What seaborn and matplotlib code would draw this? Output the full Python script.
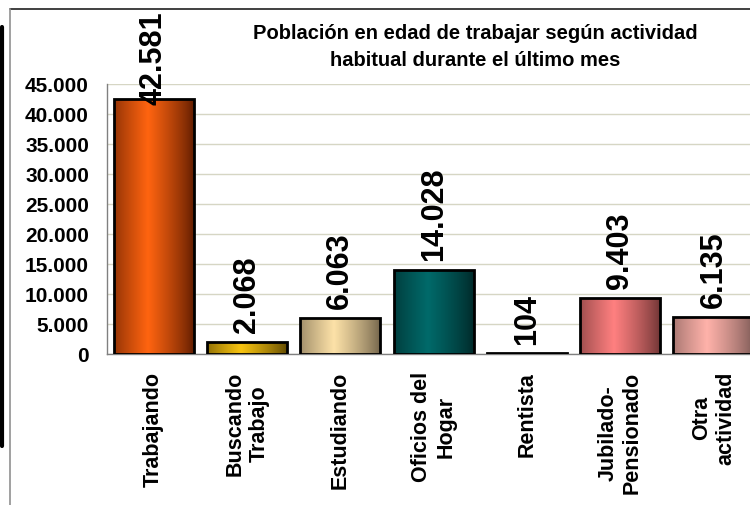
import numpy as np
import pandas as pd
import matplotlib
matplotlib.use("Agg")
import matplotlib.pyplot as plt
from matplotlib.colors import to_rgb
from matplotlib.lines import Line2D
import seaborn as sns

categorias = ["Trabajando", "Buscando\nTrabajo", "Estudiando", "Oficios del\nHogar",
              "Rentista", "Jubilado-\nPensionado", "Otra\nactividad"]
poblacion = [42581, 2068, 6063, 14028, 104, 9403, 6135]
etiquetas = ["42.581", "2.068", "6.063", "14.028", "104", "9.403", "6.135"]
ticks_y = [0, 5000, 10000, 15000, 20000, 25000, 30000, 35000, 40000, 45000]
ticks_y_txt = ["0", "5.000", "10.000", "15.000", "20.000", "25.000", "30.000",
               "35.000", "40.000", "45.000"]
titulo = "Población en edad de trabajar según actividad\nhabitual durante el último mes"

# colores (centro brillante, borde oscuro) para el degradado de cada barra
centro = ["#ff6410", "#f8c410", "#fde2a8", "#006a6a", "#202020", "#ff8080", "#ffb2aa"]
borde = ["#5a1a00", "#5a4400", "#6e6048", "#002626", "#000000", "#6a3232", "#7a5854"]

sns.set_style("white")
plt.rcParams["font.family"] = ["Liberation Sans", "DejaVu Sans"]
plt.rcParams["font.weight"] = "bold"
plt.rcParams["text.color"] = "black"
plt.rcParams["xtick.labelcolor"] = "black"
plt.rcParams["ytick.labelcolor"] = "black"

df = pd.DataFrame({"cat": categorias, "val": poblacion})

fig = plt.figure(figsize=(7.5, 5.06), dpi=100)
ax = fig.add_axes([107 / 750, 1 - 355 / 506, 1 - 107 / 750, (355 - 85) / 506])

sns.barplot(data=df, x="cat", y="val", width=0.86, ax=ax, zorder=3)

# degradado horizontal dentro de cada barra
t = np.linspace(0, 1, 200)
perfil = np.clip(1 - np.abs(t - 0.42) / 0.58, 0, 1) ** 0.8
for p, c1, c0 in zip(ax.patches, centro, borde):
    a = np.array(to_rgb(c0))
    b = np.array(to_rgb(c1))
    img = (a[None, :] * (1 - perfil[:, None]) + b[None, :] * perfil[:, None])[None, :, :]
    x0, y0 = p.get_x(), p.get_y()
    w, h = p.get_width(), p.get_height()
    im = ax.imshow(img, extent=[x0, x0 + w, y0, y0 + h], aspect="auto",
                   interpolation="bilinear", zorder=3)
    im.set_clip_path(p)
    p.set_facecolor("none")
    p.set_edgecolor("black")
    p.set_linewidth(2)
    p.set_zorder(4)

# etiquetas de valor
for i, (v, txt) in enumerate(zip(poblacion, etiquetas)):
    off = 7 if v < 40000 else -4
    ax.annotate(txt, (i, v), xytext=(0, off), textcoords="offset points",
                rotation=90, ha="center", va="bottom", fontsize=22,
                fontweight="bold", zorder=5)

ax.set_xlim(-0.5, 6.39)
ax.set_ylim(0, 45000)
ax.set_yticks(ticks_y)
ax.set_yticklabels(ticks_y_txt, fontsize=15, fontweight="bold")
ax.set_xticks(np.arange(len(categorias)) - 0.5, minor=True)
ax.set_xticks(np.arange(len(categorias)))
ax.set_xticklabels(categorias, rotation=90, fontsize=15.5, fontweight="bold",
                   ha="center", va="top", multialignment="center")
ax.tick_params(axis="x", which="major", length=0, pad=12)
ax.tick_params(axis="x", which="minor", length=6, color="#808080", width=1)
ax.tick_params(axis="y", length=6, color="#808080", width=1, pad=7, direction="out")
ax.yaxis.grid(True, color="#d6d6c4", linewidth=1)
ax.set_axisbelow(True)
ax.set_xlabel("")
ax.set_ylabel("")
for s in ["top", "right"]:
    ax.spines[s].set_visible(False)
for s in ["left", "bottom"]:
    ax.spines[s].set_color("#808080")
    ax.spines[s].set_linewidth(1)
ax.patch.set_alpha(0)

fig.text(475 / 750, 1 - 47 / 506, titulo, ha="center", va="center",
         fontsize=14.5, fontweight="bold", linespacing=1.55)

# marcos de la imagen original
fig.add_artist(Line2D([10 / 750, 1], [1 - 10 / 506] * 2, color="#202020", lw=1.2))
fig.add_artist(Line2D([10 / 750] * 2, [0, 1 - 10 / 506], color="#909090", lw=1.2))
fig.add_artist(Line2D([1.5 / 750] * 2, [1 - 447 / 506, 1 - 28 / 506], color="black", lw=3))

fig.savefig("out.png", dpi=100)
